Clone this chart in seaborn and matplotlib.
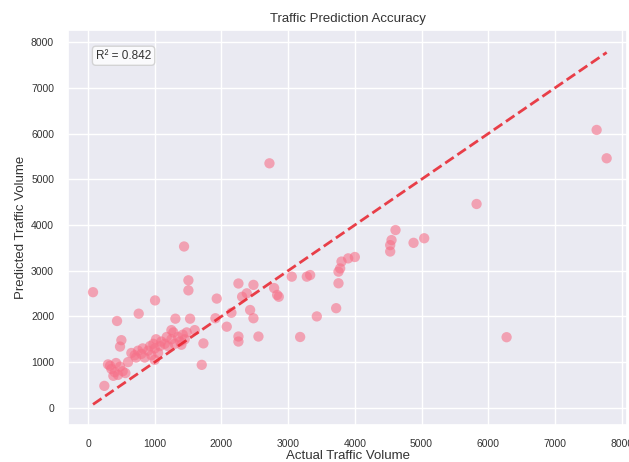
import matplotlib
matplotlib.use("Agg")
import matplotlib.pyplot as plt
import numpy as np
import pandas as pd
import seaborn as sns

# Values
actual = [
    75, 2720, 1440, 1505, 1505, 1005, 760, 435, 1310, 1530,
    1930, 1910, 2080, 2255, 2480, 2380, 2310, 2430, 2480, 2255,
    2255, 2555, 2790, 2835, 2860, 3055, 3280, 3330, 3180, 3430,
    1730, 1705, 3720, 3755, 3755, 3780, 3800, 3900, 4000, 4530,
    4530, 4550, 4610, 4880, 5040, 5825, 6275, 7625, 7775, 245,
    500, 480,
    300, 350, 400, 420, 450, 480, 520, 560, 600, 380, 330,
    650, 700, 720, 750, 800, 820, 850, 900, 930, 950, 980, 1000,
    1020, 1050, 1080, 1000,
    1100, 1150, 1180, 1200, 1250, 1280, 1300, 1350, 1380, 1420,
    1450, 1480, 1250, 1400, 1600, 2150,
]
predicted = [
    2530, 5350, 3530, 2790, 2570, 2350, 2060, 1900, 1950, 1950,
    2390, 1960, 1775, 2720, 2690, 2505, 2430, 2140, 1960, 1560,
    1450, 1560, 2620, 2470, 2430, 2870, 2870, 2905, 1550, 2000,
    1410, 940, 2180, 2725, 2980, 3050, 3200, 3270, 3300, 3420,
    3560, 3670, 3890, 3610, 3710, 4460, 1545, 6080, 5460, 480,
    1480, 1340,
    950, 850, 780, 980, 720, 900, 800, 760, 1000, 700, 920,
    1200, 1150, 1100, 1250, 1180, 1300, 1100, 1250, 1350, 1150, 1400, 1300,
    1500, 1200, 1350, 1050,
    1450, 1400, 1550, 1350, 1500, 1650, 1400, 1550, 1450, 1600,
    1500, 1650, 1700, 1380, 1700, 2080,
]
r2_text = "R² = 0.842"

sns.set_theme(style="darkgrid")
plt.rcParams["font.family"] = ["Liberation Sans", "DejaVu Sans"]

df = pd.DataFrame({"actual": actual, "predicted": predicted})

fig = plt.figure(figsize=(6.29, 4.62), dpi=100)
ax = fig.add_axes([68 / 629, 37 / 462, 559 / 629, 395 / 462])

sns.scatterplot(
    data=df, x="actual", y="predicted", ax=ax,
    color="#f77189", alpha=0.6, s=55, edgecolor="none",
)

lo = min(df["actual"].min(), df["predicted"].min())
hi = max(df["actual"].max(), df["predicted"].max())
ax.plot([lo, hi], [lo, hi], linestyle="--", color="#e8202a", lw=2, alpha=0.85)

ax.set_xlim(-300, 8080)
ax.set_ylim(-376, 8267)
ax.set_xticks(np.arange(0, 8001, 1000))
ax.set_yticks(np.arange(0, 8001, 1000))
ax.tick_params(labelsize=7.5, colors="#333333", pad=4)

ax.set_title("Traffic Prediction Accuracy", fontsize=9.5, color="#333333", pad=6)
ax.set_xlabel("Actual Traffic Volume", fontsize=9.5, color="#333333", labelpad=1)
ax.set_ylabel("Predicted Traffic Volume", fontsize=9.5, color="#333333", labelpad=3)

ax.text(
    0.05, 0.95, r2_text, transform=ax.transAxes, fontsize=8.5,
    va="top", color="#333333",
    bbox=dict(boxstyle="round", facecolor="white", alpha=0.8, edgecolor="#cccccc"),
)

plt.savefig("out.png", dpi=100)
plt.close(fig)
